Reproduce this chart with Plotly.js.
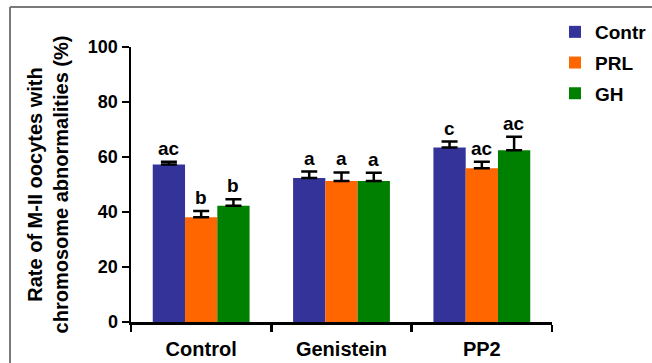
<!DOCTYPE html>
<html>
<head>
<meta charset="utf-8">
<script src="https://cdn.plot.ly/plotly-3.0.1.min.js"></script>
<style>
html,body{margin:0;padding:0;background:#fff;}
#chart{width:652px;height:363px;}
</style>
</head>
<body>
<div id="chart"></div>
<script>
// ---- data ----
const categories = ["Control", "Genistein", "PP2"];
const seriesNames = ["Contr", "PRL", "GH"];
const valuesControl = [57.3, 52.4, 63.5];
const valuesPRL = [38.1, 51.3, 55.9];
const valuesGH = [42.3, 51.3, 62.5];
const errControl = [1.0, 2.3, 2.1];
const errPRL = [2.3, 3.1, 2.4];
const errGH = [2.3, 3.0, 4.9];
const lettersControl = ["ac", "a", "c"];
const lettersPRL = ["b", "a", "ac"];
const lettersGH = ["b", "a", "ac"];

const colors = ["#333399", "#FF6600", "#008000"];
const values = [valuesControl, valuesPRL, valuesGH];
const errs = [errControl, errPRL, errGH];
const letters = [lettersControl, lettersPRL, lettersGH];

const FONT = "Liberation Sans, Arial, sans-serif";
const margin = {l: 131, r: 100, t: 47, b: 41, autoexpand: false};
const W = 652, H = 363;
const bargap = 0.31;

const traces = seriesNames.map((name, i) => ({
  type: "bar",
  name: name,
  legendgroup: "g" + i,
  x: categories,
  y: values[i],
  marker: {color: colors[i], line: {width: 0}},
  error_y: {type: "data", array: errs[i], arrayminus: errs[i].map(() => 0), symmetric: false,
            color: "#000", thickness: 2.5, width: 8},
  hoverinfo: "none"
}));

const plotW = W - margin.l - margin.r;
const plotH = H - margin.t - margin.b;
const catW = plotW / categories.length;
const barW = catW * (1 - bargap) / seriesNames.length;

const annotations = [];
seriesNames.forEach((name, i) => {
  categories.forEach((c, j) => {
    annotations.push({
      x: c, y: values[i][j] + errs[i][j], xref: "x", yref: "y",
      text: letters[i][j], showarrow: false,
      yanchor: "bottom", xanchor: "center",
      xshift: (i - 1) * barW, yshift: 1,
      font: {family: FONT, size: 19, color: "#000", weight: "bold"}
    });
  });
});

// frame lines (paper coords)
const fx = (10 - margin.l) / plotW;
const fy = (H - margin.b - 7) / plotH;
const shapes = [
  {type: "line", xref: "paper", yref: "paper", x0: fx, x1: fx, y0: -1, y1: fy,
   line: {color: "#7a7a7a", width: 2}},
  {type: "line", xref: "paper", yref: "paper", x0: fx, x1: 2, y0: fy, y1: fy,
   line: {color: "#7a7a7a", width: 2}}
];

const layout = {
  width: W, height: H,
  margin: margin,
  paper_bgcolor: "#fff", plot_bgcolor: "#fff",
  font: {family: FONT, color: "#000", weight: "bold"},
  barmode: "group",
  bargap: bargap,
  bargroupgap: 0,
  showlegend: true,
  legend: {
    x: (555 - margin.l) / plotW, y: (H - margin.b - 13) / plotH,
    xanchor: "left", yanchor: "top",
    font: {family: FONT, size: 19, color: "#000", weight: "bold"},
    itemwidth: 30, tracegroupgap: 3, traceorder: "grouped", bgcolor: "rgba(0,0,0,0)"
  },
  xaxis: {
    type: "category", automargin: false,
    showline: true, linecolor: "#000", linewidth: 2.5,
    ticks: "outside", tickson: "boundaries", ticklen: 7, tickwidth: 2.5, tickcolor: "#000",
    tickfont: {family: FONT, size: 20, color: "#000", weight: "bold"},
    ticklabelstandoff: 7,
    showgrid: false, zeroline: false, fixedrange: true
  },
  yaxis: {
    range: [0, 100], dtick: 20, tick0: 0, automargin: true,
    showline: true, linecolor: "#000", linewidth: 2.5,
    ticks: "outside", ticklen: 7, tickwidth: 2.5, tickcolor: "#000",
    tickfont: {family: FONT, size: 18, color: "#000", weight: "bold"},
    showgrid: false, zeroline: false, fixedrange: true,
    title: {
      text: "Rate of M-II oocytes with<br>chromosome abnormalities (%)",
      font: {family: FONT, size: 20, color: "#000", weight: "bold"},
      standoff: 14
    }
  },
  annotations: annotations,
  shapes: shapes
};

Plotly.newPlot("chart", traces, layout, {displayModeBar: false, staticPlot: true});
</script>
</body>
</html>
